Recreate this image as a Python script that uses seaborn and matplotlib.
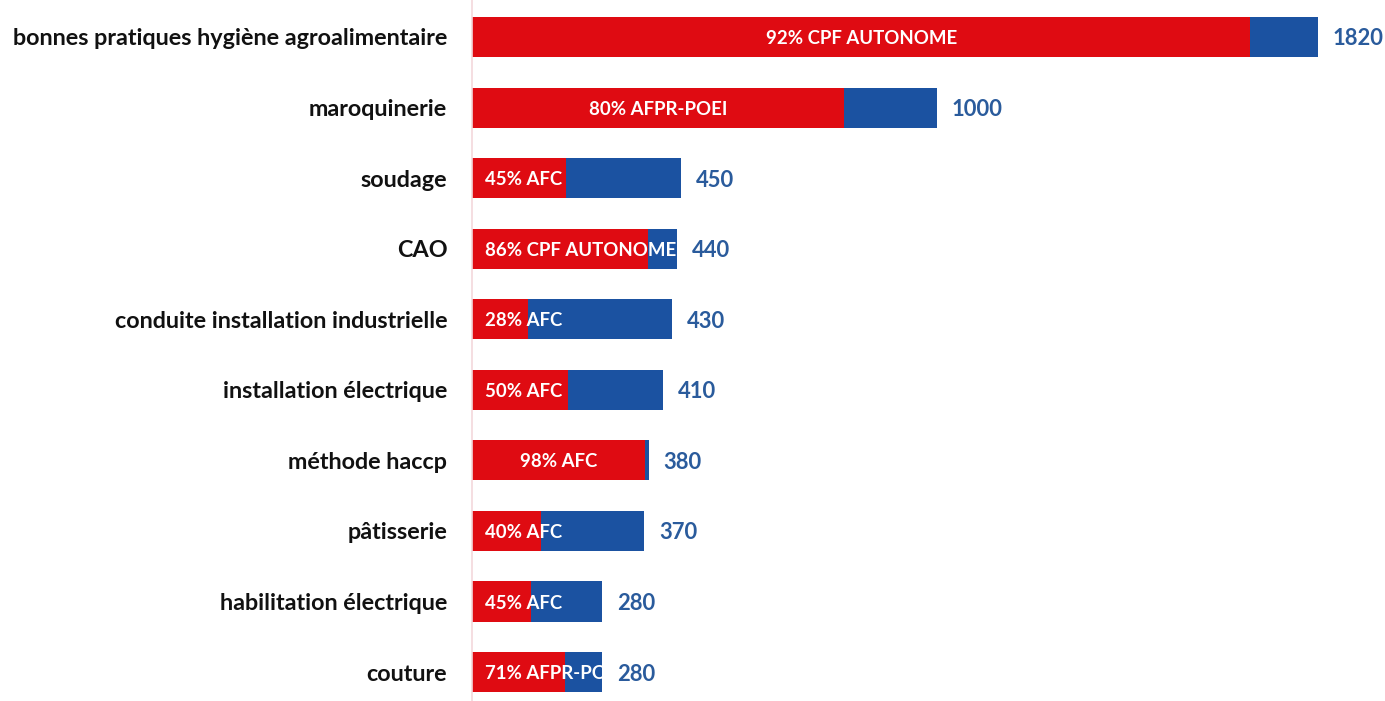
import matplotlib
matplotlib.use("Agg")
from matplotlib import pyplot as plt
import seaborn as sns
import pandas as pd

formations = [
    "bonnes pratiques hygiène agroalimentaire",
    "maroquinerie",
    "soudage",
    "CAO",
    "conduite installation industrielle",
    "installation électrique",
    "méthode haccp",
    "pâtisserie",
    "habilitation électrique",
    "couture",
]
totals = [1820, 1000, 450, 440, 430, 410, 380, 370, 280, 280]
shares = [92, 80, 45, 86, 28, 50, 98, 40, 45, 71]
dispositifs = ["CPF AUTONOME", "AFPR-POEI", "AFC", "CPF AUTONOME", "AFC",
               "AFC", "AFC", "AFC", "AFC", "AFPR-POEI"]

df = pd.DataFrame({"formation": formations, "total": totals, "share": shares,
                   "dispositif": dispositifs})
df["main"] = df["total"] * df["share"] / 100

RED = "#DF0B12"
BLUE = "#1B52A1"
LABEL_BLUE = "#2A5B9C"

sns.set_style("white")
plt.rcParams["font.family"] = ["Lato", "DejaVu Sans"]

fig = plt.figure(figsize=(13.85, 7.01), dpi=100)
ax = fig.add_axes([0.341, 0.0, 0.659, 1.0])

sns.barplot(data=df, y="formation", x="total", color=BLUE, orient="h",
            width=0.567, saturation=1, linewidth=0, ax=ax)
n_blue = len(ax.patches)
sns.barplot(data=df, y="formation", x="main", color=RED, orient="h",
            width=0.567, saturation=1, linewidth=0, ax=ax)

ax.set_xlim(0, 1964)
ax.set_ylim(9.41, -0.524)

blue_bars = ax.patches[:n_blue]
renderer = fig.canvas.get_renderer()
# data units per pixel along x
upp = 1964 / (0.659 * 1385)
for i, row in df.iterrows():
    label = f"{row['share']}% {row['dispositif']}"
    t = ax.text(row["main"] / 2, i, label, ha="center", va="center_baseline",
                color="white", fontsize=13.4, fontweight="bold")
    w = t.get_window_extent(renderer).width * upp
    # centre the label in the red part, or start it near the axis if it doesn't fit
    t.set_x(max(row["main"] / 2, 28 + w / 2))
    t.set_clip_path(blue_bars[i])
    ax.text(row["total"] + 32, i, f"{row['total']}", ha="left", va="center_baseline",
            color=LABEL_BLUE, fontsize=15.8, fontweight="bold")

ax.set_xlabel("")
ax.set_ylabel("")
ax.set_xticks([])
ax.tick_params(axis="y", length=0, pad=18, labelsize=16.8)
for lab in ax.get_yticklabels():
    lab.set_fontweight("bold")
    lab.set_color("#111111")

for side in ["top", "right", "bottom"]:
    ax.spines[side].set_visible(False)
ax.spines["left"].set_color("#F3D8DB")
ax.spines["left"].set_linewidth(1.2)

fig.savefig("out.png", dpi=100)
